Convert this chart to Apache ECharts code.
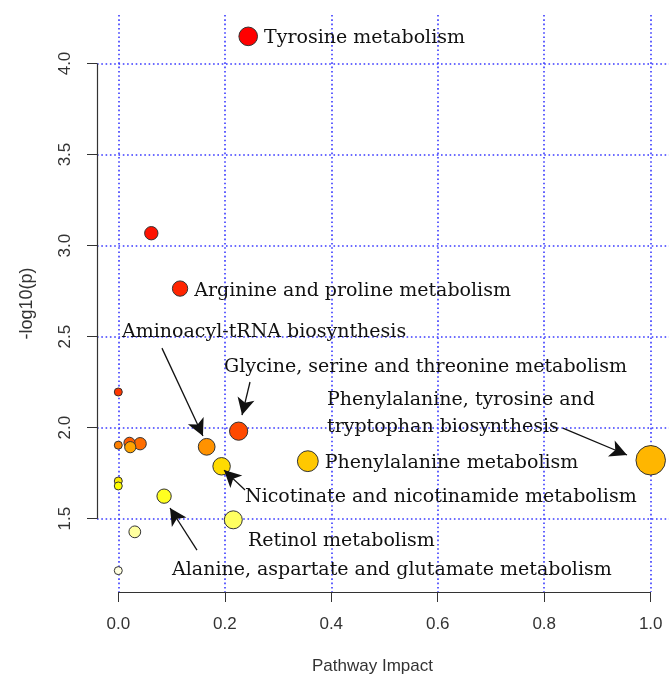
<!DOCTYPE html>
<html><head><meta charset="utf-8">
<script src="https://cdn.jsdelivr.net/npm/echarts@6/dist/echarts.min.js"></script>
<style>html,body{margin:0;padding:0;background:#fff}#c{width:669px;height:677px}</style>
</head><body><div id="c"></div>
<script>
// ---- data ----
const pathwayNames = [
  "Tyrosine metabolism", "", "Arginine and proline metabolism", "",
  "Glycine, serine and threonine metabolism", "", "", "",
  "Aminoacyl-tRNA biosynthesis", "",
  "Phenylalanine, tyrosine and tryptophan biosynthesis",
  "Phenylalanine metabolism", "Nicotinate and nicotinamide metabolism",
  "", "", "Alanine, aspartate and glutamate metabolism",
  "Retinol metabolism", "", ""
];
const pathwayImpact = [0.244, 0.062, 0.116, 0.0, 0.226, 0.041, 0.021, 0.0, 0.166, 0.0225,
  1.0, 0.356, 0.194, 0.0, 0.0, 0.086, 0.216, 0.031, 0.0];
const negLogP = [4.149, 3.068, 2.764, 2.196, 1.981, 1.912, 1.917, 1.904, 1.895, 1.893,
  1.821, 1.816, 1.788, 1.707, 1.680, 1.624, 1.494, 1.428, 1.215];
// labels drawn right next to their circle
const labelRight = ["Tyrosine metabolism", "Arginine and proline metabolism", "Phenylalanine metabolism"];
// free-standing annotation texts (left-middle anchor, data units)
const noteText = ["Aminoacyl-tRNA biosynthesis", "Glycine, serine and threonine metabolism",
  "Phenylalanine, tyrosine and\ntryptophan biosynthesis", "Nicotinate and nicotinamide metabolism",
  "Retinol metabolism", "Alanine, aspartate and glutamate metabolism"];
const noteX = [0.007, 0.1985, 0.392, 0.238, 0.2436, 0.1009];
const noteY = [2.525, 2.333, 2.078, 1.619, 1.377, 1.218];
// arrows: tail -> head (data units)
const arrowFromX = [0.082, 0.2474, 0.238, 0.1478, 0.835];
const arrowFromY = [2.437, 2.251, 1.658, 1.328, 1.998];
const arrowToX = [0.159, 0.2324, 0.1985, 0.0971, 0.9555];
const arrowToY = [1.954, 2.069, 1.767, 1.559, 1.850];
const xTicks = [0, 0.2, 0.4, 0.6, 0.8, 1.0];
const yTicks = [1.5, 2.0, 2.5, 3.0, 3.5, 4.0];

// ---- R-like helpers ----
function hsv2hex(h, s, v) {
  const i = Math.floor(h * 6), f = h * 6 - i;
  const p = v * (1 - s), q = v * (1 - f * s), t = v * (1 - (1 - f) * s);
  let r, g, b;
  switch (i % 6) {
    case 0: r = v; g = t; b = p; break; case 1: r = q; g = v; b = p; break;
    case 2: r = p; g = v; b = t; break; case 3: r = p; g = q; b = v; break;
    case 4: r = t; g = p; b = v; break; default: r = v; g = p; b = q;
  }
  const hx = x => Math.round(x * 255).toString(16).padStart(2, '0');
  return '#' + hx(r) + hx(g) + hx(b);
}
function heatColors(n) {
  const j = Math.floor(n / 4), i = n - j, out = [];
  for (let k = 0; k < i; k++) out.push(hsv2hex(i > 1 ? k / (i - 1) / 6 : 0, 1, 1));
  for (let k = 0; k < j; k++) {
    const s0 = 1 - 1 / (2 * j), s1 = 1 / (2 * j);
    out.push(hsv2hex(1 / 6, j > 1 ? s0 + (s1 - s0) * k / (j - 1) : s0, 1));
  }
  return out;
}
const n = negLogP.length;
const palette = heatColors(n);
const order = negLogP.map((v, i) => i).sort((a, b) => negLogP[b] - negLogP[a]);
const colorOf = [];
order.forEach((idx, r) => colorOf[idx] = palette[r]);

function rangeExt(lo, hi) { const d = hi - lo; return [lo - 0.04 * d, hi + 0.04 * d]; }
const [xMin, xMax] = rangeExt(Math.min(...pathwayImpact), Math.max(...pathwayImpact));
const [yMin, yMax] = rangeExt(Math.min(...negLogP), Math.max(...negLogP));
const eps = 1e-6;

const serifFont = '"DejaVu Serif", serif';
const sansFont = '"Liberation Sans", Arial, sans-serif';

const pointData = negLogP.map((v, i) => {
  const d = {
    value: [pathwayImpact[i], v], name: pathwayNames[i],
    symbolSize: 8 + 21.5 * Math.sqrt(pathwayImpact[i]),
    itemStyle: { color: colorOf[i] }
  };
  if (labelRight.includes(pathwayNames[i])) {
    d.label = { show: true, position: 'right', distance: 6, offset: [0, 2], formatter: '{b}',
      fontFamily: serifFont, fontSize: 19, color: '#111' };
  }
  return d;
});

const noteData = noteText.map((t, i) => ({ value: [noteX[i], noteY[i]], name: t }));

const arrowLines = arrowFromX.map((x, i) => [
  { coord: [x, arrowFromY[i]] }, { coord: [arrowToX[i], arrowToY[i]] }
]);
const axisLines = [
  [{ coord: [xTicks[0], yMin + eps] }, { coord: [xTicks[xTicks.length - 1], yMin + eps] }],
  [{ coord: [xMin + eps, yTicks[0]] }, { coord: [xMin + eps, yTicks[yTicks.length - 1]] }]
];

const gridLine = { show: true, lineStyle: { color: '#3a3aff', width: 1.6, type: [1.6, 2.7] } };

const chart = echarts.init(document.getElementById('c'), null, { renderer: 'canvas' });
chart.setOption({
  animation: false,
  backgroundColor: '#fff',
  grid: { left: 97, right: -3, top: 15, bottom: 85, containLabel: false, outerBoundsMode: 'none' },
  xAxis: {
    type: 'value', min: xMin, max: xMax,
    name: 'Pathway Impact', nameLocation: 'middle', nameGap: 66,
    nameTextStyle: { fontFamily: sansFont, fontSize: 17, color: '#333', padding: [0, 24, 0, 0] },
    axisLine: { show: false, onZero: false },
    axisTick: { show: true, length: 10, customValues: xTicks, lineStyle: { color: '#333', width: 1 } },
    axisLabel: { customValues: xTicks, margin: 24, fontFamily: sansFont, fontSize: 17, color: '#333',
      formatter: v => v.toFixed(1) },
    splitLine: gridLine
  },
  yAxis: {
    type: 'value', min: yMin, max: yMax,
    name: '-log10(p)', nameLocation: 'middle', nameGap: 61,
    nameTextStyle: { fontFamily: sansFont, fontSize: 18, color: '#333' },
    axisLine: { show: false, onZero: false },
    axisTick: { show: true, length: 10, customValues: yTicks, lineStyle: { color: '#333', width: 1 } },
    axisLabel: { customValues: yTicks, rotate: 90, margin: 23, fontFamily: sansFont, fontSize: 17, color: '#333',
      formatter: v => v.toFixed(1) },
    splitLine: gridLine
  },
  series: [
    {
      type: 'scatter', name: 'notes', data: noteData, symbolSize: 0.01, clip: false, silent: true,
      itemStyle: { color: '#111' },
      label: { show: true, position: 'right', distance: 0, formatter: '{b}', opacity: 1,
        fontFamily: serifFont, fontSize: 19, color: '#111', lineHeight: 27, align: 'left' },
      markLine: {
        silent: true, animation: false, symbol: ['none', 'arrow'], symbolSize: [13, 17],
        label: { show: false }, lineStyle: { color: '#111', width: 1.3, type: 'solid' },
        emphasis: { disabled: true }, data: arrowLines
      }
    },
    {
      type: 'scatter', name: 'axes', data: [], silent: true, clip: false,
      markLine: {
        silent: true, animation: false, symbol: ['none', 'none'],
        label: { show: false }, lineStyle: { color: '#333', width: 1.2, type: 'solid' },
        emphasis: { disabled: true }, data: axisLines
      }
    },
    {
      type: 'scatter', name: 'pathways', data: pointData, clip: false,
      itemStyle: { borderColor: '#333', borderWidth: 1, opacity: 1 },
      emphasis: { disabled: true }, z: 3
    }
  ]
});
</script></body></html>
